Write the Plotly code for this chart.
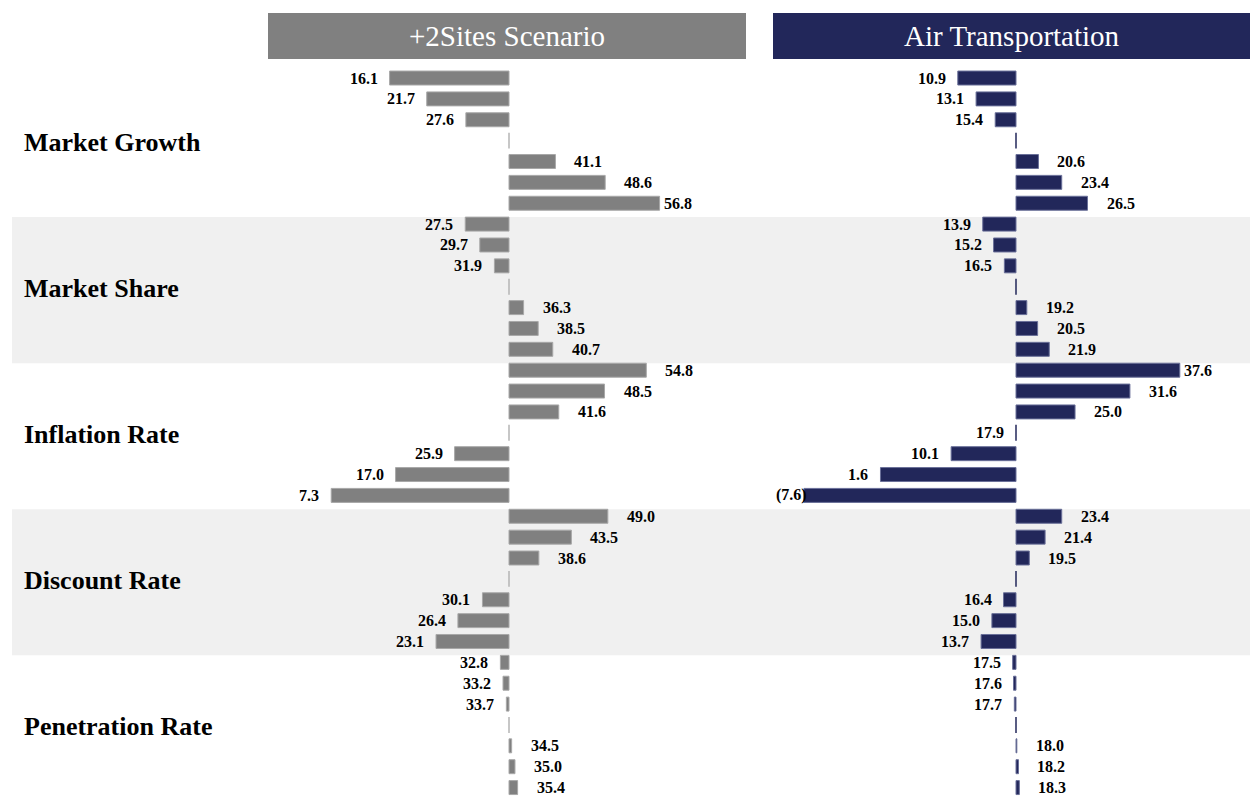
import plotly.graph_objects as go

# ---------------- data ----------------
categories = ["Market Growth", "Market Share", "Inflation Rate", "Discount Rate", "Penetration Rate"]
panel_titles = ["+2Sites Scenario", "Air Transportation"]

left_base = 34.1
right_base = 17.9

# 7 rows per category: 3 bars, middle (base) row, 3 bars
left_values = [
    16.1, 21.7, 27.6, None, 41.1, 48.6, 56.8,
    27.5, 29.7, 31.9, None, 36.3, 38.5, 40.7,
    54.8, 48.5, 41.6, None, 25.9, 17.0, 7.3,
    49.0, 43.5, 38.6, None, 30.1, 26.4, 23.1,
    32.8, 33.2, 33.7, None, 34.5, 35.0, 35.4,
]
right_values = [
    10.9, 13.1, 15.4, None, 20.6, 23.4, 26.5,
    13.9, 15.2, 16.5, None, 19.2, 20.5, 21.9,
    37.6, 31.6, 25.0, None, 10.1, 1.6, -7.6,
    23.4, 21.4, 19.5, None, 16.4, 15.0, 13.7,
    17.5, 17.6, 17.7, None, 18.0, 18.2, 18.3,
]
# labels shown on the middle (base) row of each category
left_mid_labels = [None, None, None, None, None]
right_mid_labels = [None, None, 17.9, None, None]

shaded_categories = [1, 3]

# ---------------- layout constants ----------------
W, H = 1250, 798
ROWS_PER_CAT = 7
N_ROWS = ROWS_PER_CAT * len(categories)
PLOT_TOP_PX = 67.6
BAR_FRAC = 0.67

GRAY = "#808080"
NAVY = "#22275a"
BAND = "#f0f0f0"
FONT = "'Liberation Serif', 'Times New Roman', 'DejaVu Serif', serif"

panels = [
    dict(values=left_values, base=left_base, mids=left_mid_labels, color=GRAY,
         edge="#a8a8a8", dash="#b4b4b4", px=(268, 746), center=509, scale=6.634,
         lbl_bounds=(268, 694), xaxis="x", title=panel_titles[0]),
    dict(values=right_values, base=right_base, mids=right_mid_labels, color=NAVY,
         edge="#6a7099", dash=NAVY, px=(773, 1250), center=1016, scale=8.315,
         lbl_bounds=(774, 1214), xaxis="x2", title=panel_titles[1]),
]


def fmt(v):
    return f"({abs(v):.1f})" if v < 0 else f"{v:.1f}"


def text_w(s):
    w = 0
    for ch in s:
        if ch.isdigit():
            w += 8.0
        elif ch == ".":
            w += 4.0
        else:
            w += 5.3
    return w


fig = go.Figure()
annotations = []
shapes = []

for p in panels:
    base, sc, c = p["base"], p["scale"], p["center"]
    to_px = lambda v: c + (v - base) * sc
    to_data = lambda px: base + (px - c) / sc
    ys, xs = [], []
    for i, v in enumerate(p["values"]):
        if v is None:
            continue
        ys.append(i)
        xs.append(v - base)
    fig.add_trace(go.Bar(
        x=xs, y=ys, base=base, orientation="h",
        marker=dict(color=p["color"], line=dict(color=p["edge"], width=1)),
        width=BAR_FRAC, xaxis=p["xaxis"], yaxis="y", showlegend=False,
        hoverinfo="skip",
    ))
    # middle dashes
    dx, dy = [], []
    for k in range(len(categories)):
        r = k * ROWS_PER_CAT + 3
        dx += [base, base, None]
        dy += [r - 0.38, r + 0.38, None]
    fig.add_trace(go.Scatter(x=dx, y=dy, mode="lines",
                             line=dict(color=p["dash"], width=1.5),
                             xaxis=p["xaxis"], yaxis="y", showlegend=False,
                             hoverinfo="skip"))
    xref = p["xaxis"]
    lo, hi = p["lbl_bounds"]
    lab_font = dict(family=FONT, size=16, color="#000000")
    for i, v in enumerate(p["values"]):
        if v is None:
            continue
        t = "<b>" + fmt(v) + "</b>"
        w = text_w(fmt(v))
        if v >= base:
            if to_px(v) + 17 + w > hi:
                annotations.append(dict(x=to_data(hi), y=i, xref=xref, yref="y", text=t,
                                        showarrow=False, xanchor="right", font=lab_font))
            else:
                annotations.append(dict(x=v, y=i, xref=xref, yref="y", text=t, showarrow=False,
                                        xanchor="left", xshift=17, font=lab_font))
        else:
            if to_px(v) - 10 - w < lo:
                annotations.append(dict(x=to_data(lo), y=i, xref=xref, yref="y", text=t,
                                        showarrow=False, xanchor="left", font=lab_font))
            else:
                annotations.append(dict(x=v, y=i, xref=xref, yref="y", text=t, showarrow=False,
                                        xanchor="right", xshift=-10, font=lab_font))
    for k, m in enumerate(p["mids"]):
        if m is None:
            continue
        annotations.append(dict(x=base, y=k * ROWS_PER_CAT + 3, xref=xref, yref="y",
                                text="<b>" + fmt(m) + "</b>", showarrow=False,
                                xanchor="right", xshift=-10, font=lab_font))
    # header box
    shapes.append(dict(type="rect", xref="paper", yref="paper",
                       x0=p["px"][0] / W, x1=p["px"][1] / W,
                       y0=1 - 59 / H, y1=1 - 13 / H,
                       fillcolor=p["color"], line=dict(width=0), layer="below"))
    annotations.append(dict(x=(p["px"][0] + p["px"][1]) / 2 / W, y=1 - 36 / H,
                            xref="paper", yref="paper", text=p["title"], showarrow=False,
                            xanchor="center", yanchor="middle",
                            font=dict(family=FONT, size=29, color="#ffffff")))

# shaded bands
for k in shaded_categories:
    r0 = k * ROWS_PER_CAT - BAR_FRAC / 2
    r1 = (k + 1) * ROWS_PER_CAT - BAR_FRAC / 2
    shapes.append(dict(type="rect", xref="paper", yref="y", x0=12 / W, x1=1,
                       y0=r0, y1=r1, fillcolor=BAND, line=dict(width=0), layer="below"))

# category labels
for k, name in enumerate(categories):
    annotations.append(dict(x=22 / W, y=k * ROWS_PER_CAT + 3, xref="paper", yref="y",
                            text="<b>" + name + "</b>", showarrow=False, xanchor="left",
                            yshift=-2,
                            font=dict(family=FONT, size=26, color="#000000")))

lp, rp = panels
axis_common = dict(showgrid=False, zeroline=False, showticklabels=False, showline=False,
                   ticks="", fixedrange=True)
fig.update_layout(
    width=W, height=H,
    margin=dict(l=0, r=0, t=0, b=0),
    paper_bgcolor="#ffffff", plot_bgcolor="rgba(0,0,0,0)",
    barmode="overlay",
    showlegend=False,
    font=dict(family=FONT),
    xaxis=dict(domain=[lp["px"][0] / W, lp["px"][1] / W],
               range=[lp["base"] + (lp["px"][0] - lp["center"]) / lp["scale"],
                      lp["base"] + (lp["px"][1] - lp["center"]) / lp["scale"]],
               anchor="y", **axis_common),
    xaxis2=dict(domain=[rp["px"][0] / W, rp["px"][1] / W],
                range=[rp["base"] + (rp["px"][0] - rp["center"]) / rp["scale"],
                       rp["base"] + (rp["px"][1] - rp["center"]) / rp["scale"]],
                anchor="y", **axis_common),
    yaxis=dict(domain=[0, 1 - PLOT_TOP_PX / H], range=[N_ROWS - 0.5, -0.5], **axis_common),
    shapes=shapes,
    annotations=annotations,
)

fig.write_html("out.html")
